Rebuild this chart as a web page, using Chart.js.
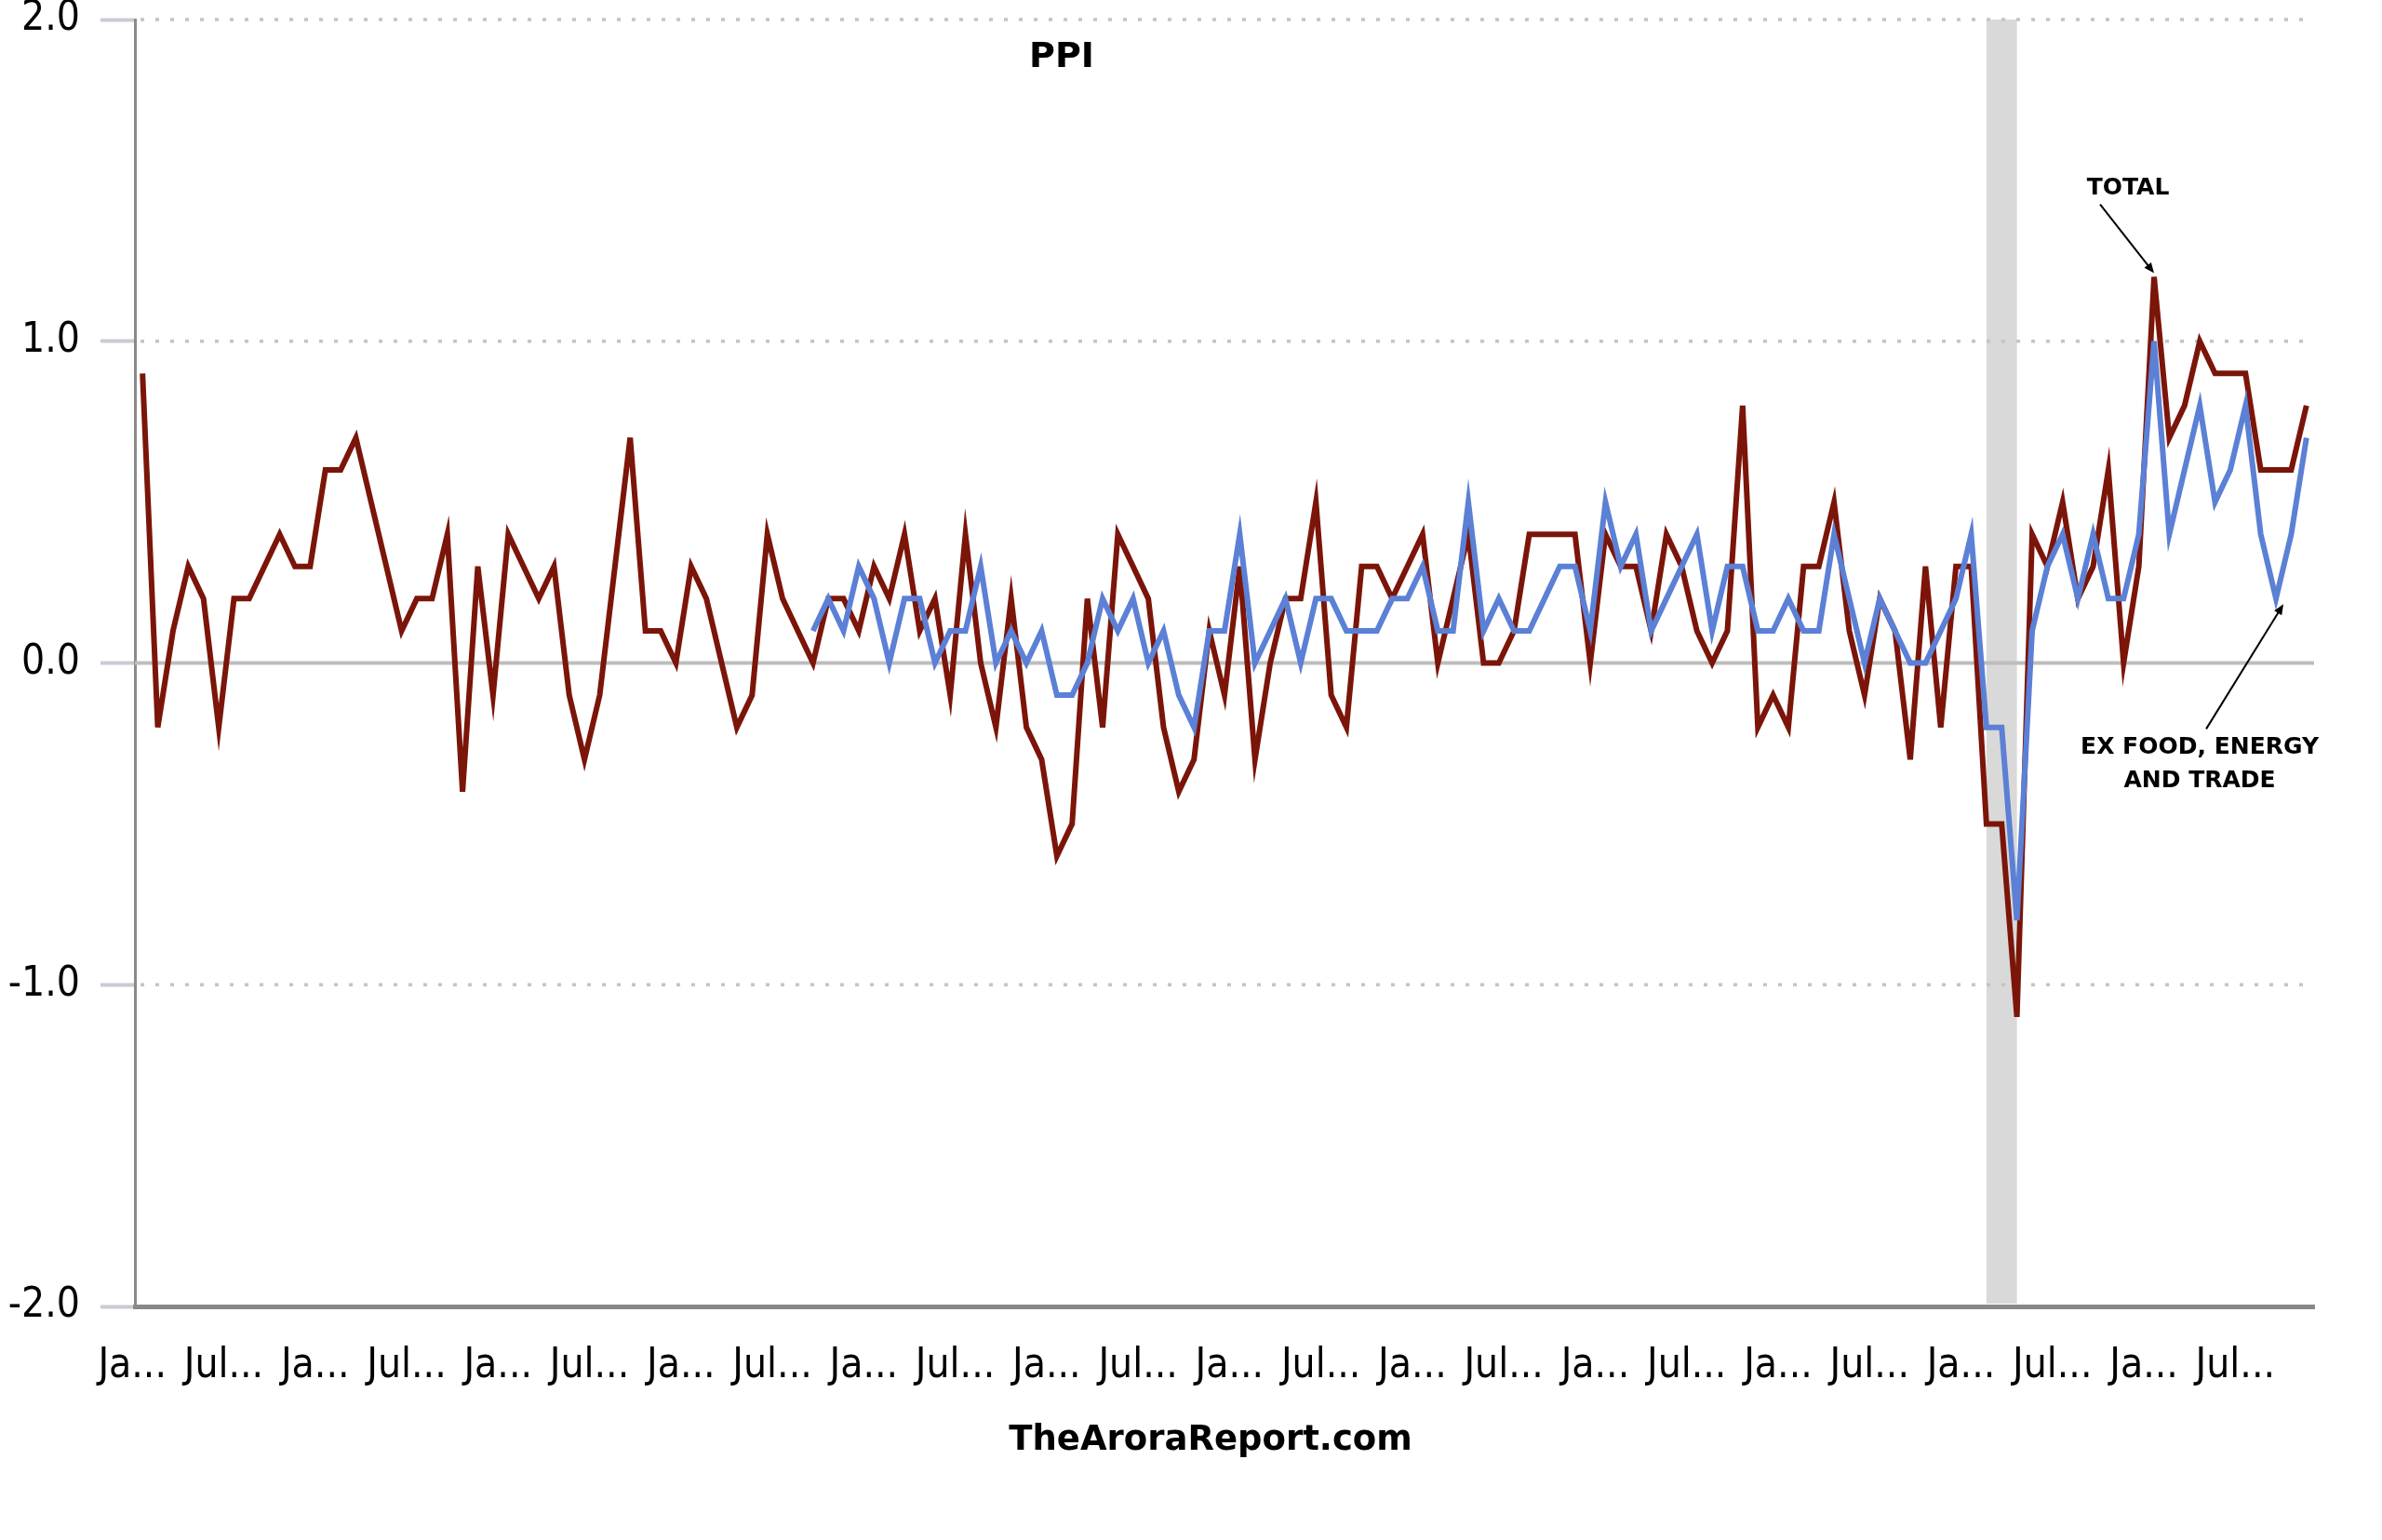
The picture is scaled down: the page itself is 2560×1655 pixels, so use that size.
<!DOCTYPE html>
<html>
<head>
<meta charset="utf-8">
<script src="https://cdn.jsdelivr.net/npm/chart.js@4.4.1/dist/chart.umd.min.js"></script>
<style>
  html, body { margin: 0; padding: 0; background: #fff; }
  #wrap { width: 2560px; height: 1655px; }
</style>
</head>
<body>
<div id="wrap"><canvas id="ppiChart" width="2560" height="1655"></canvas></div>
<script>
// PPI monthly % change, Jan 2010 .. Nov 2021
const monthNames = ["Jan", "Feb", "Mar", "Apr", "May", "Jun", "Jul", "Aug", "Sep", "Oct", "Nov", "Dec"];
const tickLabels = ["Ja...", "Jul..."]; // shown every 6 months, truncated like the original

const totalPPI = [
  0.9, -0.2, 0.1, 0.3, 0.2, -0.2, 0.2, 0.2, 0.3, 0.4, 0.3, 0.3,     // 2010
  0.6, 0.6, 0.7, 0.5, 0.3, 0.1, 0.2, 0.2, 0.4, -0.4, 0.3, -0.1,     // 2011
  0.4, 0.3, 0.2, 0.3, -0.1, -0.3, -0.1, 0.3, 0.7, 0.1, 0.1, 0.0,    // 2012
  0.3, 0.2, 0.0, -0.2, -0.1, 0.4, 0.2, 0.1, 0.0, 0.2, 0.2, 0.1,     // 2013
  0.3, 0.2, 0.4, 0.1, 0.2, -0.1, 0.4, 0.0, -0.2, 0.2, -0.2, -0.3,   // 2014
  -0.6, -0.5, 0.2, -0.2, 0.4, 0.3, 0.2, -0.2, -0.4, -0.3, 0.1, -0.1, // 2015
  0.3, -0.3, 0.0, 0.2, 0.2, 0.5, -0.1, -0.2, 0.3, 0.3, 0.2, 0.3,    // 2016
  0.4, 0.0, 0.2, 0.4, 0.0, 0.0, 0.1, 0.4, 0.4, 0.4, 0.4, 0.0,       // 2017
  0.4, 0.3, 0.3, 0.1, 0.4, 0.3, 0.1, 0.0, 0.1, 0.8, -0.2, -0.1,     // 2018
  -0.2, 0.3, 0.3, 0.5, 0.1, -0.1, 0.2, 0.1, -0.3, 0.3, -0.2, 0.3,   // 2019
  0.3, -0.5, -0.5, -1.1, 0.4, 0.3, 0.5, 0.2, 0.3, 0.6, 0.0, 0.3,    // 2020
  1.2, 0.7, 0.8, 1.0, 0.9, 0.9, 0.9, 0.6, 0.6, 0.6, 0.8             // 2021
];

// ex food, energy and trade - series starts Sep 2013
const exFoodEnergyTrade = [
  null, null, null, null, null, null, null, null, null, null, null, null, // 2010
  null, null, null, null, null, null, null, null, null, null, null, null, // 2011
  null, null, null, null, null, null, null, null, null, null, null, null, // 2012
  null, null, null, null, null, null, null, null, 0.1, 0.2, 0.1, 0.3,    // 2013
  0.2, 0.0, 0.2, 0.2, 0.0, 0.1, 0.1, 0.3, 0.0, 0.1, 0.0, 0.1,          // 2014
  -0.1, -0.1, 0.0, 0.2, 0.1, 0.2, 0.0, 0.1, -0.1, -0.2, 0.1, 0.1,      // 2015
  0.4, 0.0, 0.1, 0.2, 0.0, 0.2, 0.2, 0.1, 0.1, 0.1, 0.2, 0.2,          // 2016
  0.3, 0.1, 0.1, 0.5, 0.1, 0.2, 0.1, 0.1, 0.2, 0.3, 0.3, 0.1,          // 2017
  0.5, 0.3, 0.4, 0.1, 0.2, 0.3, 0.4, 0.1, 0.3, 0.3, 0.1, 0.1,          // 2018
  0.2, 0.1, 0.1, 0.4, 0.2, 0.0, 0.2, 0.1, 0.0, 0.0, 0.1, 0.2,          // 2019
  0.4, -0.2, -0.2, -0.8, 0.1, 0.3, 0.4, 0.2, 0.4, 0.2, 0.2, 0.4,       // 2020
  1.0, 0.4, 0.6, 0.8, 0.5, 0.6, 0.8, 0.4, 0.2, 0.4, 0.7                // 2021
];

// recession shading (Feb 2020 .. Apr 2020), as month indexes
const recessionStart = 121;
const recessionEnd = 123;

// annotation anchors (month index, value)
const totalPeak = { idx: 132, value: 1.2 };
const corePoint = { idx: 140, value: 0.2 };

const months = [];
for (let y = 2010; y <= 2021; y++) {
  monthNames.forEach((m) => months.push(m + " " + y));
}
const labels = months.slice(0, totalPPI.length);

const narrowFont = '"Liberation Sans Narrow", "DejaVu Sans Condensed", "Arial Narrow", sans-serif';

function arrow(ctx, x0, y0, x1, y1) {
  const ang = Math.atan2(y1 - y0, x1 - x0);
  const head = 12;
  ctx.beginPath();
  ctx.moveTo(x0, y0);
  ctx.lineTo(x1 - Math.cos(ang) * head * 0.6, y1 - Math.sin(ang) * head * 0.6);
  ctx.stroke();
  ctx.beginPath();
  ctx.moveTo(x1, y1);
  ctx.lineTo(x1 - head * Math.cos(ang - 0.4), y1 - head * Math.sin(ang - 0.4));
  ctx.lineTo(x1 - head * Math.cos(ang + 0.4), y1 - head * Math.sin(ang + 0.4));
  ctx.closePath();
  ctx.fill();
}

const decor = {
  id: "decor",
  beforeDraw(chart) {
    const { ctx, chartArea: a, scales: { x } } = chart;
    ctx.save();
    ctx.fillStyle = "#fff";
    ctx.fillRect(0, 0, chart.width, chart.height);
    const x0 = x.getPixelForValue(recessionStart);
    const x1 = x.getPixelForValue(recessionEnd);
    ctx.fillStyle = "#d9d9d9";
    ctx.fillRect(x0, a.top, x1 - x0, a.bottom - a.top - 3);
    ctx.restore();
  },
  beforeDatasetsDraw(chart) {
    const { ctx, chartArea: a, scales: { y } } = chart;
    ctx.save();
    // dotted grid lines
    ctx.strokeStyle = "#c4c4c4";
    ctx.lineWidth = 3.5;
    ctx.setLineDash([4, 12]);
    [2, 1, -1].forEach((v) => {
      const py = y.getPixelForValue(v);
      ctx.beginPath();
      ctx.moveTo(a.left + 6, py);
      ctx.lineTo(a.right, py);
      ctx.stroke();
    });
    // zero line
    ctx.setLineDash([]);
    ctx.strokeStyle = "#bdbdbd";
    ctx.lineWidth = 4;
    const p0 = y.getPixelForValue(0);
    ctx.beginPath();
    ctx.moveTo(a.left, p0);
    ctx.lineTo(a.right, p0);
    ctx.stroke();
    ctx.restore();
  },
  afterDatasetsDraw(chart) {
    const { ctx, scales: { x, y } } = chart;
    ctx.save();
    ctx.fillStyle = "#000";
    ctx.strokeStyle = "#000";
    ctx.textAlign = "center";
    ctx.textBaseline = "middle";

    ctx.font = 'bold 38px "DejaVu Sans"';
    ctx.fillText("PPI", 1141, 62);

    ctx.font = 'bold 37px "DejaVu Sans"';
    ctx.fillText("TheAroraReport.com", 1301, 1548);

    // TOTAL label
    const tx = x.getPixelForValue(totalPeak.idx);
    const ty = y.getPixelForValue(totalPeak.value);
    ctx.font = 'bold 25px "DejaVu Sans"';
    ctx.fillText("TOTAL", tx - 28, ty - 95);
    ctx.lineWidth = 2;
    arrow(ctx, tx - 58, ty - 78, tx, ty - 4);

    // core label
    const cx = x.getPixelForValue(corePoint.idx);
    const cy = y.getPixelForValue(corePoint.value);
    ctx.fillText("EX FOOD, ENERGY", cx - 82, cy + 160);
    ctx.fillText("AND TRADE", cx - 82, cy + 196);
    arrow(ctx, cx - 75, cy + 140, cx + 8, cy + 6);
    ctx.restore();
  }
};

const ctx = document.getElementById("ppiChart").getContext("2d");
new Chart(ctx, {
  type: "line",
  data: {
    labels: labels,
    datasets: [
      {
        label: "Total",
        data: totalPPI,
        borderColor: "#7b1509",
        borderWidth: 6,
        pointRadius: 0,
        tension: 0,
        borderJoinStyle: "miter",
        order: 2,
      },
      {
        label: "Ex food, energy and trade",
        data: exFoodEnergyTrade,
        borderColor: "#5b80d5",
        borderWidth: 6,
        pointRadius: 0,
        tension: 0,
        borderJoinStyle: "miter",
        spanGaps: false,
        order: 1,
      },
    ],
  },
  options: {
    responsive: false,
    animation: false,
    layout: { padding: { top: 21, right: 73, bottom: 0, left: 0 } },
    plugins: {
      legend: { display: false },
      tooltip: { enabled: false },
    },
    scales: {
      x: {
        type: "category",
        offset: true,
        grid: { display: false, drawTicks: false },
        border: { display: true, color: "#888888", width: 5 },
        ticks: {
          autoSkip: false,
          maxRotation: 0,
          minRotation: 0,
          padding: 38,
          labelOffset: -11,
          color: "#000",
          font: { family: narrowFont, size: 44 },
          callback: (val, i) => (i % 6 === 0 ? tickLabels[(i / 6) % 2] : null),
        },
        afterFit: (s) => { s.height = 251; },
      },
      y: {
        min: -2,
        max: 2,
        ticks: {
          stepSize: 1,
          padding: 22,
          color: "#000",
          font: { family: narrowFont, size: 44 },
          callback: (v) => v.toFixed(1),
        },
        grid: {
          display: true,
          drawOnChartArea: false,
          drawTicks: true,
          tickLength: 37,
          tickWidth: 4,
          tickColor: "#c9ccd6",
        },
        border: { display: true, color: "#8a8a8a", width: 3 },
        afterFit: (s) => {
          s.width = 145;
          s.paddingTop = 0;
          s.paddingBottom = 0;
        },
      },
    },
  },
  plugins: [decor],
});
</script>
</body>
</html>
